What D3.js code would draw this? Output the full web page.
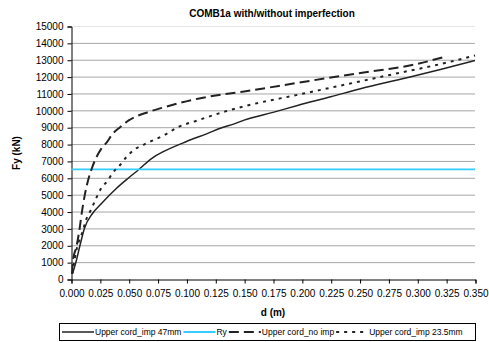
<!DOCTYPE html>
<html lang="en">
<head>
  <meta charset="utf-8">
  <title>COMB1a with/without imperfection</title>
  <script src="https://d3js.org/d3.v7.min.js"></script>
  <style>
    html, body { margin: 0; padding: 0; background: #fff; }
    svg { display: block; font-family: "Liberation Sans", Arial, sans-serif; }
    .tick text { font-size: 10px; fill: #000; }
    .grid line { stroke: #a6a6a6; stroke-width: 1; }
  </style>
</head>
<body>
  <svg id="chart" width="489" height="342"></svg>
  <script>
    // Values (d in m, Fy in kN)
    const imp47D = [0.0015, 0.0043, 0.0078, 0.0116, 0.0188, 0.026, 0.039, 0.050, 0.058, 0.071, 0.080, 0.100, 0.118, 0.130, 0.142, 0.150, 0.175, 0.197, 0.225, 0.250, 0.290, 0.320, 0.350];
    const imp47F = [360, 1000, 2000, 3000, 3900, 4450, 5350, 6000, 6450, 7200, 7550, 8150, 8620, 8950, 9210, 9420, 9880, 10300, 10800, 11270, 11920, 12420, 12950];

    const noImpD = [0.001, 0.0015, 0.005, 0.0075, 0.0095, 0.012, 0.015, 0.018, 0.026, 0.031, 0.036, 0.0425, 0.050, 0.067, 0.079, 0.110, 0.132, 0.150, 0.197, 0.246, 0.298, 0.325];
    const noImpF = [300, 1000, 2000, 3000, 4000, 5000, 5900, 6550, 7700, 8100, 8600, 9000, 9400, 9900, 10150, 10690, 10950, 11120, 11640, 12170, 12720, 13200];

    const imp235D = [0.001, 0.003, 0.005, 0.010, 0.013, 0.0173, 0.0217, 0.026, 0.032, 0.036, 0.0425, 0.048, 0.0555, 0.064, 0.0815, 0.093, 0.110, 0.131, 0.150, 0.197, 0.246, 0.281, 0.318, 0.350];
    const imp235F = [300, 1100, 1800, 2800, 3500, 4100, 4770, 5360, 5850, 6280, 6760, 7230, 7700, 8000, 8560, 9010, 9410, 9880, 10240, 10930, 11650, 12170, 12710, 13250];

    const ryValue = 6500;

    const xTicks = [0, 0.025, 0.05, 0.075, 0.1, 0.125, 0.15, 0.175, 0.2, 0.225, 0.25, 0.275, 0.3, 0.325, 0.35];
    const yTicks = [0, 1000, 2000, 3000, 4000, 5000, 6000, 7000, 8000, 9000, 10000, 11000, 12000, 13000, 14000, 15000];

    const series = [
      { name: 'Upper cord_imp 47mm', d: imp47D, f: imp47F, color: '#222', width: 1.5, dash: null },
      { name: 'Ry', d: [0, 0.35], f: [ryValue, ryValue], color: '#33ccff', width: 1.8, dash: null },
      { name: 'Upper cord_no imp', d: noImpD, f: noImpF, color: '#222', width: 2, dash: '10,5' },
      { name: 'Upper cord_imp 23.5mm', d: imp235D, f: imp235F, color: '#222', width: 2, dash: '3,5' }
    ];

    const svg = d3.select('#chart');
    const plot = { left: 71, right: 475, top: 26, bottom: 279 };

    const x = d3.scaleLinear().domain([0, 0.35]).range([plot.left, plot.right]);
    const y = d3.scaleLinear().domain([0, 15000]).range([plot.bottom, plot.top]);

    // gridlines
    svg.append('g').attr('class', 'grid')
      .selectAll('line')
      .data(yTicks.filter(v => v > 0))
      .join('line')
        .attr('x1', plot.left).attr('x2', plot.right)
        .attr('y1', d => y(d) + 0.5).attr('y2', d => y(d) + 0.5)
        .style('stroke', d => d === 15000 ? '#e6e6e6' : null);

    // axes
    const yAxis = svg.append('g')
      .attr('transform', `translate(${plot.left + 0.5},0.5)`)
      .call(d3.axisLeft(y).tickValues(yTicks).tickSize(4).tickPadding(4).tickFormat(d3.format('d')));
    const xAxis = svg.append('g')
      .attr('transform', `translate(0.5,${plot.bottom + 0.5})`)
      .call(d3.axisBottom(x).tickValues(xTicks).tickSize(4).tickPadding(6).tickFormat(d3.format('.3f')));
    [yAxis, xAxis].forEach(a => {
      a.select('.domain').attr('stroke', '#000');
      a.selectAll('.tick line').attr('stroke', '#000');
    });

    // series lines (smoothed like the spreadsheet chart)
    const line = d3.line().curve(d3.curveMonotoneX).x(p => x(p[0])).y(p => y(p[1]));
    series.forEach(s => {
      svg.append('path')
        .datum(s.d.map((v, i) => [v, s.f[i]]))
        .attr('fill', 'none')
        .attr('stroke', s.color)
        .attr('stroke-width', s.width)
        .attr('stroke-dasharray', s.dash)
        .attr('d', line);
    });

    // titles
    svg.append('text')
      .attr('x', 272).attr('y', 17)
      .attr('text-anchor', 'middle')
      .style('font-size', '10px').style('font-weight', 'bold')
      .text('COMB1a with/without imperfection');

    svg.append('text')
      .attr('transform', 'translate(20,153) rotate(-90)')
      .attr('text-anchor', 'middle')
      .style('font-size', '10px').style('font-weight', 'bold')
      .text('Fy (kN)');

    svg.append('text')
      .attr('x', 273).attr('y', 316)
      .attr('text-anchor', 'middle')
      .style('font-size', '10px').style('font-weight', 'bold')
      .text('d (m)');

    // legend
    const legend = svg.append('g');
    legend.append('rect')
      .attr('x', 59.5).attr('y', 323.5)
      .attr('width', 416).attr('height', 17)
      .attr('fill', '#fff').attr('stroke', '#000');

    let lx = 62;
    const ly = 332;
    series.forEach(s => {
      legend.append('line')
        .attr('x1', lx).attr('x2', lx + 32)
        .attr('y1', ly).attr('y2', ly)
        .attr('stroke', s.color)
        .attr('stroke-width', s.width)
        .attr('stroke-dasharray', s.dash);
      const t = legend.append('text')
        .attr('x', lx + 33).attr('y', ly + 3)
        .style('font-size', '8.5px')
        .text(s.name);
      lx += 33 + t.node().getComputedTextLength() + 2;
    });
  </script>
</body>
</html>
